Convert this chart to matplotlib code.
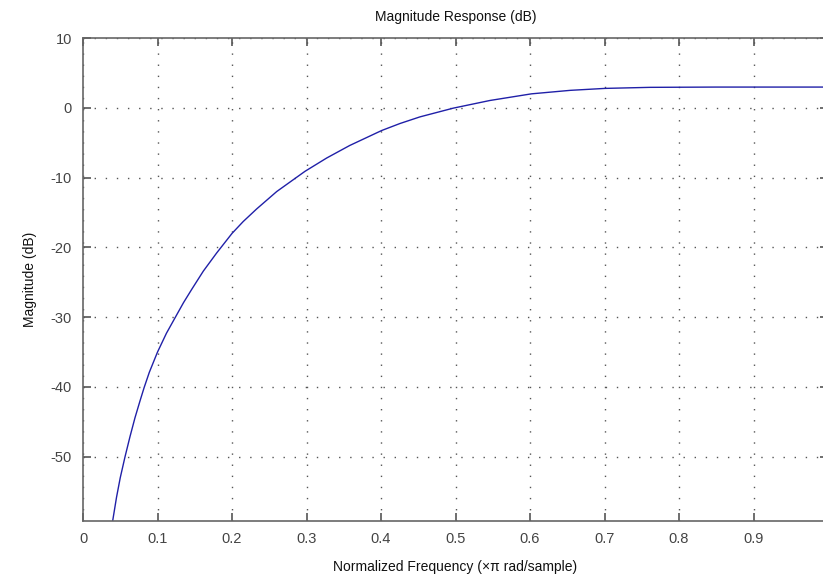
import numpy as np
import matplotlib
matplotlib.use("Agg")
import matplotlib.pyplot as plt

# values
freq = [0.0398, 0.045, 0.050, 0.0564, 0.0631, 0.0698, 0.0765, 0.082,
        0.089, 0.1, 0.112, 0.124, 0.135, 0.146, 0.1615, 0.1794, 0.2,
        0.215, 0.233, 0.26, 0.298, 0.327, 0.358, 0.401, 0.4255, 0.4523,
        0.497, 0.5463, 0.602, 0.654, 0.7007, 0.761, 0.85, 1.0]
mag_db = [-59.2, -55.8, -53.0, -50.0, -47.1, -44.4, -42.0, -40.1,
          -37.9, -35.0, -32.3, -30.0, -27.9, -26.0, -23.4, -20.8, -18.0,
          -16.3, -14.5, -12.0, -9.1, -7.2, -5.4, -3.25, -2.25, -1.3,
          -0.05, 1.05, 2.0, 2.5, 2.78, 2.93, 2.97, 2.97]

xticks = [0, 0.1, 0.2, 0.3, 0.4, 0.5, 0.6, 0.7, 0.8, 0.9]
xticklabels = ["0", "0.1", "0.2", "0.3", "0.4", "0.5", "0.6", "0.7", "0.8", "0.9"]
yticks = [10, 0, -10, -20, -30, -40, -50]

plt.rcParams["font.family"] = ["Liberation Sans", "DejaVu Sans"]
plt.rcParams["axes.unicode_minus"] = False

fig = plt.figure(figsize=(8.23, 5.80), dpi=100)
ax = fig.add_axes([83 / 823, 1 - 521 / 580, 745 / 823, (521 - 38) / 580])

ax.plot(freq, mag_db, color="#2020a8", lw=1.0)

ax.set_xlim(0, 1)
ax.set_ylim(-59.2, 10)
ax.set_xticks(xticks)
ax.set_xticklabels(xticklabels)
ax.set_yticks(yticks)
ax.tick_params(axis="both", direction="in", length=6, width=1.2,
               color="#555555", labelcolor="#444444", labelsize=10.5,
               top=True, right=True, pad=8)
ax.grid(True, linestyle=(0, (1, 7)), color="#555555", linewidth=1.0)
for s in ax.spines.values():
    s.set_color("#666666")
    s.set_linewidth(1.2)

ax.set_title("Magnitude Response (dB)", fontsize=10, color="#111111", pad=12)
ax.set_xlabel("Normalized Frequency (\u00d7\u03c0 rad/sample)", fontsize=10,
              color="#111111", labelpad=10)
ax.set_ylabel("Magnitude (dB)", fontsize=10, color="#111111", labelpad=10)

fig.savefig("out.png", dpi=100)
